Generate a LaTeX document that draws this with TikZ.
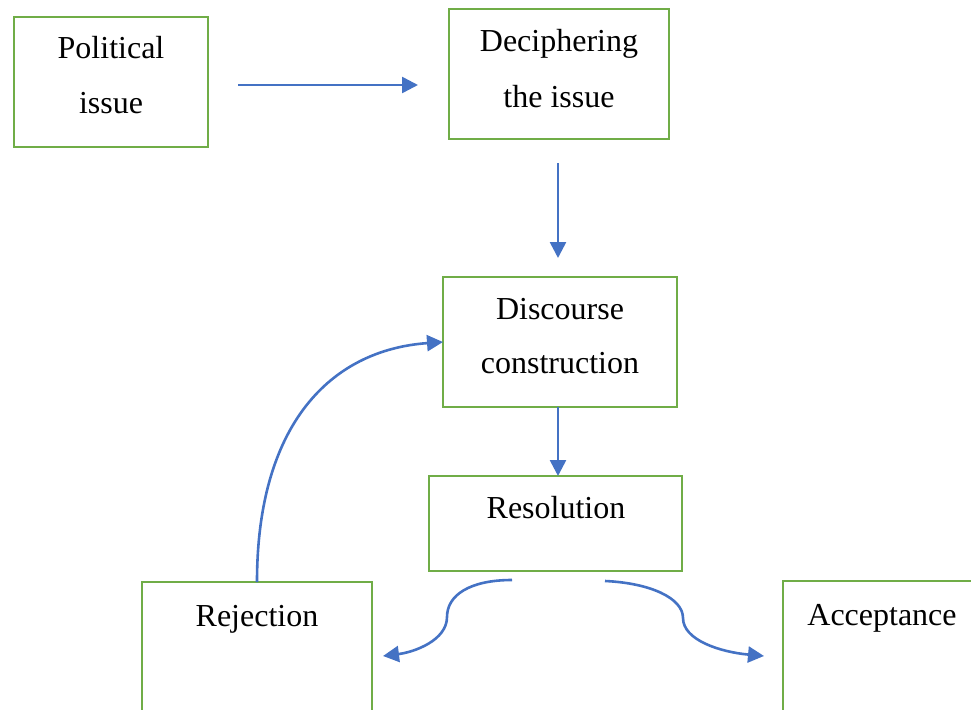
\documentclass[tikz,border=0pt]{standalone}
\usepackage{fontspec}
\setmainfont{Liberation Serif}
\usetikzlibrary{arrows.meta}
\definecolor{boxgreen}{HTML}{70AD47}
\definecolor{arrblue}{HTML}{4472C4}
\tikzset{
  box/.style={draw=boxgreen, line width=2.8pt, fill=white, inner sep=0pt, outer sep=0pt},
  lbl/.style={inner sep=0pt, anchor=base, font=\fontsize{32}{32}\selectfont},
  arr/.style={draw=arrblue, line width=2.6pt, -{Triangle[length=16pt,width=16pt]}},
}
\begin{document}
\begin{tikzpicture}[x=1pt,y=-1pt]
\useasboundingbox (0,0) rectangle (971,709);
\clip (0,0) rectangle (971,709);
% boxes
\node[box, minimum width=194pt, minimum height=130pt] (pol) at (111,82) {};
\node[box, minimum width=220pt, minimum height=130pt] (dec) at (559,74) {};
\node[box, minimum width=234pt, minimum height=130pt] (dis) at (560,342) {};
\node[box, minimum width=253pt, minimum height=95pt] (res) at (555.5,523.5) {};
\node[box, minimum width=230pt, minimum height=178pt] (rej) at (257,671) {};
\node[box, minimum width=202pt, minimum height=179pt] (acc) at (884,670.5) {};
% labels
\node[lbl] (polt1) at (111,59) {Political};
\node[lbl] (polt2) at (111,113) {issue};
\node[lbl] (dect1) at (559,52) {Deciphering};
\node[lbl] (dect2) at (559,107) {the issue};
\node[lbl] (dist1) at (560,319) {Discourse};
\node[lbl] (dist2) at (560,373) {construction};
\node[lbl] (rest) at (556,518) {Resolution};
\node[lbl] (rejt) at (257,626) {Rejection};
\node[lbl] (acct) at (882,625) {Acceptance};
% connector ends
\coordinate (p1) at (238,85);
\coordinate (p2) at (418,85);
\coordinate (d1) at (558,163);
\coordinate (d2) at (558,258);
\coordinate (l1) at (512,580);
\coordinate (l2) at (383,656);
\coordinate (r1) at (605,581);
\coordinate (r2) at (764,656);
% connectors
\draw[arr] (p1) -- (p2);
\draw[arr] (d1) -- (d2);
\draw[arr] (dis.south -| d1) -- (res.north -| d1);
\draw[arr] (rej.north) .. controls (257,425) and (330,350) .. (dis.west);
\draw[arr] (l1) .. controls (470,580) and (447,595) .. (447,617) .. controls (447,640) and (415,652) .. (l2);
\draw[arr] (r1) .. controls (650,583) and (683,598) .. (683,618) .. controls (683,640) and (720,652) .. (r2);
\end{tikzpicture}
\end{document}
